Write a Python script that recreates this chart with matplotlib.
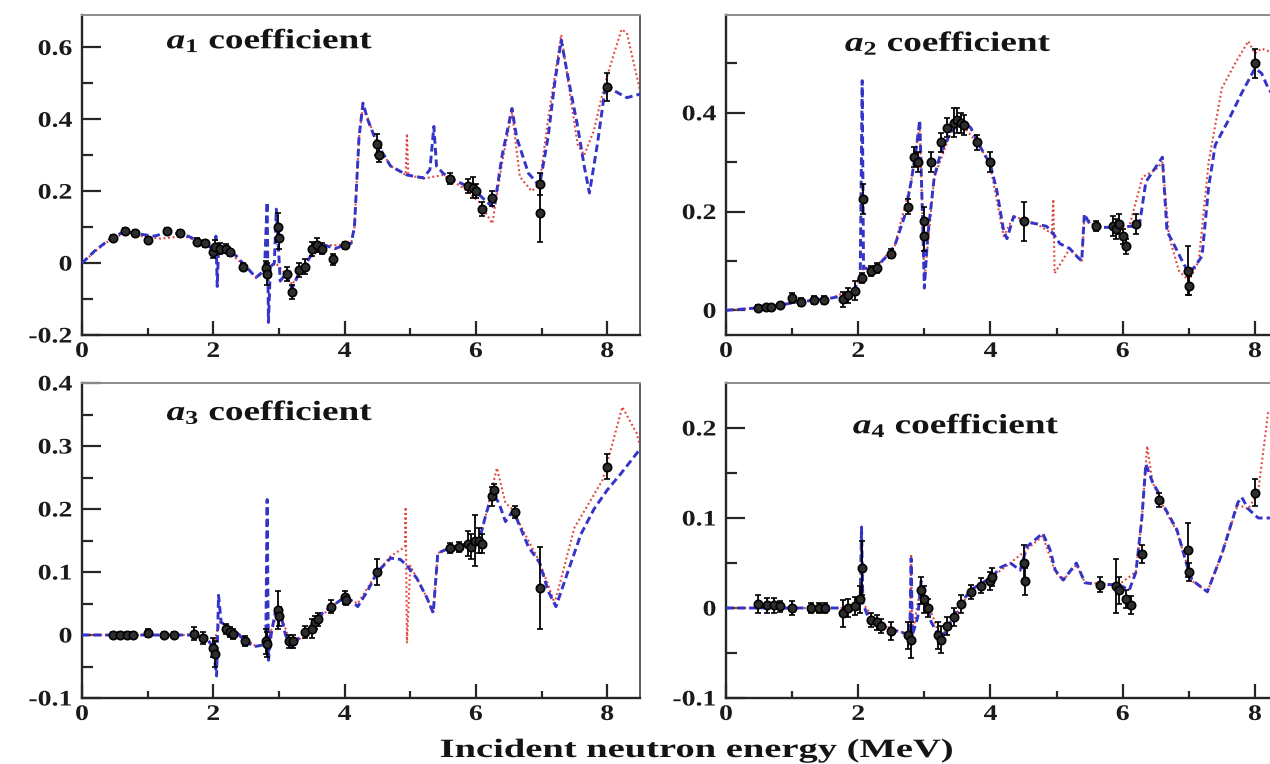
import matplotlib
matplotlib.use("Agg")
import matplotlib.pyplot as plt
from matplotlib import patheffects
from matplotlib.transforms import Affine2D
from matplotlib.ticker import MultipleLocator, FixedLocator, FuncFormatter

plt.rcParams['font.family'] = ['Liberation Serif', 'DejaVu Serif']
plt.rcParams['font.weight'] = 'bold'
plt.rcParams['mathtext.fontset'] = 'custom'
plt.rcParams['mathtext.rm'] = 'Liberation Serif:bold'
plt.rcParams['mathtext.it'] = 'Liberation Serif:bold:italic'
plt.rcParams['mathtext.bf'] = 'Liberation Serif:bold'
plt.rcParams['mathtext.bfit'] = 'Liberation Serif:bold:italic'
plt.rcParams['axes.unicode_minus'] = False

BLUE = '#3434c8'
RED = '#e2443c'
INK = '#262626'

# ---------------- a1 ----------------
a1_fit_x = [0.0, 0.2, 0.45, 0.65, 0.9, 1.1, 1.3, 1.55, 1.8, 1.95, 2.02, 2.04, 2.06, 2.08, 2.2, 2.35,
            2.5, 2.65, 2.78, 2.82, 2.84, 2.87, 2.93, 2.96, 2.99, 3.02, 3.1, 3.2, 3.3, 3.45, 3.55,
            3.7, 3.85, 4.0, 4.1, 4.15, 4.22, 4.28, 4.35, 4.5, 4.7, 4.95, 5.2, 5.3, 5.36, 5.4, 5.5,
            5.6, 5.8, 5.9, 6.05, 6.2, 6.28, 6.4, 6.55, 6.62, 6.8, 6.97, 7.1, 7.2, 7.3, 7.4, 7.55,
            7.65, 7.73, 7.85, 7.98, 8.1, 8.3, 8.5]
a1_fit_y = [0.0, 0.035, 0.07, 0.088, 0.08, 0.075, 0.085, 0.08, 0.06, 0.045, 0.03, 0.075, -0.065, 0.04,
            0.04, 0.02, -0.01, -0.04, -0.02, 0.17, -0.165, -0.01, 0.0, 0.15, 0.05, -0.05, -0.03, -0.07,
            -0.03, 0.01, 0.04, 0.05, 0.04, 0.05, 0.055, 0.1, 0.35, 0.445, 0.4, 0.33, 0.27, 0.245,
            0.237, 0.26, 0.38, 0.27, 0.25, 0.236, 0.22, 0.21, 0.19, 0.165, 0.155, 0.3, 0.43, 0.35,
            0.25, 0.215, 0.35, 0.5, 0.62, 0.52, 0.38, 0.27, 0.195, 0.33, 0.5, 0.48, 0.46, 0.47]
a1_alt_x = [0.0, 0.2, 0.45, 0.65, 0.9, 1.2, 1.55, 1.8, 2.0, 2.2, 2.5, 2.65, 2.8, 2.95, 3.1, 3.2,
            3.45, 3.7, 4.0, 4.1, 4.15, 4.22, 4.28, 4.5, 4.7, 4.93, 4.95, 4.97, 5.2, 5.5, 5.8, 6.05,
            6.25, 6.4, 6.55, 6.67, 6.85, 6.97, 7.1, 7.3, 7.45, 7.55, 7.65, 7.8, 7.9, 8.0, 8.1, 8.22,
            8.3, 8.5]
a1_alt_y = [0.0, 0.033, 0.068, 0.082, 0.075, 0.068, 0.075, 0.06, 0.035, 0.035, -0.01, -0.04, -0.025,
            0.0, -0.03, -0.06, 0.01, 0.05, 0.05, 0.055, 0.1, 0.35, 0.44, 0.33, 0.27, 0.245, 0.36,
            0.245, 0.235, 0.245, 0.21, 0.17, 0.11, 0.28, 0.42, 0.24, 0.2, 0.22, 0.4, 0.635, 0.45,
            0.33, 0.3, 0.37, 0.45, 0.52, 0.58, 0.65, 0.64, 0.48]
a1_x = [0.47, 0.65, 0.8, 1.0, 1.3, 1.5, 1.75, 1.87, 2.0, 2.03, 2.1, 2.2, 2.25, 2.45, 2.8, 2.82,
        2.98, 3.0, 3.12, 3.2, 3.3, 3.4, 3.5, 3.58, 3.65, 3.82, 4.0, 4.5, 4.52, 5.6, 5.88, 5.95,
        6.0, 6.1, 6.25, 6.98, 6.98, 7.99]
a1_y = [0.07, 0.09, 0.085, 0.065, 0.09, 0.085, 0.06, 0.055, 0.03, 0.045, 0.04, 0.04, 0.03, -0.01,
        -0.015, -0.03, 0.1, 0.07, -0.03, -0.08, -0.02, -0.01, 0.04, 0.05, 0.04, 0.01, 0.05, 0.33,
        0.3, 0.235, 0.215, 0.21, 0.2, 0.15, 0.18, 0.22, 0.14, 0.49]
a1_err = [0.008, 0.008, 0.008, 0.008, 0.008, 0.008, 0.01, 0.01, 0.015, 0.02, 0.015, 0.012, 0.01,
          0.01, 0.02, 0.03, 0.04, 0.03, 0.02, 0.02, 0.02, 0.02, 0.02, 0.02, 0.015, 0.015, 0.01,
          0.03, 0.02, 0.015, 0.02, 0.03, 0.02, 0.02, 0.02, 0.03, 0.08, 0.04]

# ---------------- a2 ----------------
a2_fit_x = [0.0, 0.5, 0.8, 1.0, 1.3, 1.6, 1.8, 1.95, 2.03, 2.06, 2.08, 2.25, 2.4, 2.55, 2.7, 2.8,
            2.88, 2.93, 2.97, 3.0, 3.05, 3.15, 3.25, 3.4, 3.55, 3.7, 3.85, 4.0, 4.1, 4.2, 4.25,
            4.35, 4.5, 4.7, 4.85, 4.95, 5.05, 5.2, 5.3, 5.38, 5.42, 5.5, 5.6, 5.9, 6.1, 6.25, 6.35,
            6.45, 6.55, 6.6, 6.67, 6.75, 6.9, 7.0, 7.1, 7.2, 7.3, 7.4, 7.6, 7.8, 8.0, 8.1, 8.2, 8.3,
            8.5]
a2_fit_y = [0.0, 0.005, 0.01, 0.015, 0.02, 0.025, 0.03, 0.045, 0.07, 0.465, 0.085, 0.085, 0.105, 0.13,
            0.19, 0.26, 0.33, 0.385, 0.2, 0.045, 0.15, 0.27, 0.32, 0.36, 0.385, 0.37, 0.33, 0.295,
            0.24, 0.16, 0.145, 0.19, 0.18, 0.175, 0.17, 0.155, 0.135, 0.125, 0.11, 0.1, 0.195, 0.175,
            0.168, 0.168, 0.17, 0.17, 0.26, 0.28, 0.3, 0.31, 0.16, 0.14, 0.1, 0.075, 0.09, 0.11, 0.25,
            0.335, 0.385, 0.44, 0.49, 0.48, 0.45, 0.43, 0.42]
a2_alt_x = [0.0, 0.5, 1.0, 1.6, 1.95, 2.05, 2.08, 2.25, 2.55, 2.8, 2.93, 3.0, 3.15, 3.4, 3.55,
            3.85, 4.0, 4.2, 4.35, 4.7, 4.93, 4.95, 4.97, 5.2, 5.38, 5.42, 5.6, 6.1, 6.3, 6.5, 6.6,
            6.7, 6.85, 7.0, 7.15, 7.3, 7.5, 7.7, 7.9, 8.0, 8.1, 8.3, 8.5]
a2_alt_y = [0.0, 0.005, 0.015, 0.025, 0.045, 0.07, 0.09, 0.085, 0.13, 0.26, 0.375, 0.06, 0.27, 0.36,
            0.38, 0.33, 0.29, 0.15, 0.19, 0.175, 0.155, 0.225, 0.075, 0.125, 0.1, 0.19, 0.168, 0.17,
            0.27, 0.285, 0.3, 0.15, 0.08, 0.06, 0.1, 0.3, 0.45, 0.5, 0.545, 0.52, 0.53, 0.52, 0.5]
a2_x = [0.49, 0.6, 0.68, 0.82, 1.0, 1.13, 1.33, 1.48, 1.77, 1.84, 1.95, 2.05, 2.07, 2.2, 2.28, 2.5,
        2.75, 2.85, 2.9, 3.0, 3.0, 3.1, 3.25, 3.35, 3.45, 3.5, 3.55, 3.6, 3.8, 4.0, 4.5, 5.6, 5.85,
        5.9, 5.95, 6.0, 6.05, 6.2, 6.98, 7.0, 8.0]
a2_y = [0.005, 0.006, 0.006, 0.01, 0.025, 0.016, 0.02, 0.02, 0.022, 0.03, 0.04, 0.065, 0.225, 0.08,
        0.085, 0.115, 0.21, 0.31, 0.3, 0.18, 0.15, 0.3, 0.34, 0.37, 0.38, 0.385, 0.38, 0.375, 0.34,
        0.3, 0.18, 0.17, 0.17, 0.165, 0.175, 0.15, 0.13, 0.175, 0.08, 0.05, 0.5]
a2_err = [0.005, 0.005, 0.005, 0.005, 0.01, 0.008, 0.008, 0.008, 0.015, 0.015, 0.02, 0.01, 0.03,
          0.01, 0.01, 0.01, 0.015, 0.02, 0.02, 0.03, 0.03, 0.02, 0.02, 0.02, 0.03, 0.025, 0.02, 0.02,
          0.015, 0.02, 0.04, 0.01, 0.02, 0.02, 0.02, 0.015, 0.015, 0.02, 0.05, 0.02, 0.03]

# ---------------- a3 ----------------
a3_fit_x = [0.0, 1.7, 1.9, 2.0, 2.05, 2.08, 2.12, 2.2, 2.35, 2.5, 2.65, 2.8, 2.82, 2.84, 2.88, 2.95,
            3.0, 3.1, 3.2, 3.3, 3.45, 3.6, 3.8, 4.0, 4.1, 4.2, 4.35, 4.5, 4.7, 4.85, 4.95, 5.1, 5.25,
            5.35, 5.42, 5.6, 5.9, 6.05, 6.15, 6.25, 6.35, 6.45, 6.55, 6.6, 6.8, 6.97, 7.1, 7.22, 7.4,
            7.6, 7.8, 8.0, 8.2, 8.5]
a3_fit_y = [0.0, 0.0, -0.005, -0.02, -0.065, 0.063, 0.02, 0.015, 0.005, -0.012, -0.018, -0.015, 0.215,
            -0.04, 0.0, 0.04, 0.045, 0.0, -0.02, -0.005, 0.01, 0.03, 0.045, 0.06, 0.055, 0.045, 0.07,
            0.1, 0.122, 0.12, 0.11, 0.09, 0.06, 0.035, 0.13, 0.138, 0.146, 0.15, 0.19, 0.225, 0.21,
            0.18, 0.195, 0.19, 0.14, 0.115, 0.07, 0.045, 0.1, 0.16, 0.2, 0.23, 0.255, 0.295]
a3_alt_x = [0.0, 1.7, 2.0, 2.1, 2.35, 2.65, 2.8, 3.0, 3.2, 3.45, 3.8, 4.0, 4.2, 4.5, 4.7, 4.85,
            4.92, 4.93, 4.95, 5.0, 5.1, 5.25, 5.35, 5.42, 5.6, 6.05, 6.15, 6.32, 6.45, 6.55, 6.75,
            6.95, 7.1, 7.2, 7.5, 7.93, 8.23, 8.45, 8.5]
a3_alt_y = [0.0, 0.0, -0.015, 0.02, 0.005, -0.018, -0.015, 0.04, -0.02, 0.01, 0.045, 0.06, 0.05, 0.1,
            0.125, 0.135, 0.14, 0.203, -0.013, 0.11, 0.09, 0.06, 0.035, 0.13, 0.138, 0.15, 0.19,
            0.265, 0.21, 0.2, 0.16, 0.12, 0.08, 0.05, 0.17, 0.246, 0.362, 0.32, 0.3]
a3_x = [0.47, 0.58, 0.68, 0.78, 1.0, 1.25, 1.4, 1.7, 1.85, 2.0, 2.03, 2.2, 2.25, 2.3, 2.48, 2.8,
        2.82, 2.98, 3.0, 3.15, 3.22, 3.4, 3.5, 3.55, 3.6, 3.8, 4.0, 4.02, 4.5, 5.6, 5.75, 5.88,
        5.92, 5.98, 6.05, 6.1, 6.25, 6.28, 6.6, 6.98, 7.99]
a3_y = [0.0, 0.0, 0.0, 0.0, 0.003, 0.0, 0.0, 0.002, -0.005, -0.02, -0.03, 0.01, 0.005, 0.002, -0.01,
        -0.01, -0.015, 0.04, 0.03, -0.01, -0.01, 0.005, 0.01, 0.02, 0.025, 0.045, 0.06, 0.055, 0.1,
        0.138, 0.14, 0.145, 0.14, 0.15, 0.15, 0.145, 0.22, 0.23, 0.195, 0.075, 0.267]
a3_err = [0.004, 0.004, 0.004, 0.004, 0.006, 0.005, 0.005, 0.01, 0.01, 0.015, 0.02, 0.008, 0.008,
          0.008, 0.008, 0.02, 0.02, 0.03, 0.015, 0.01, 0.01, 0.01, 0.015, 0.01, 0.01, 0.01, 0.01,
          0.008, 0.02, 0.008, 0.008, 0.02, 0.02, 0.04, 0.02, 0.015, 0.015, 0.01, 0.01, 0.065, 0.02]

# ---------------- a4 ----------------
a4_fit_x = [0.0, 1.8, 1.95, 2.03, 2.05, 2.07, 2.15, 2.3, 2.5, 2.7, 2.78, 2.8, 2.82, 2.9, 2.95, 3.0,
            3.1, 3.25, 3.4, 3.55, 3.7, 3.88, 4.03, 4.15, 4.3, 4.45, 4.55, 4.79, 4.9, 4.98, 5.1, 5.3,
            5.43, 5.66, 5.94, 6.1, 6.2, 6.29, 6.35, 6.45, 6.58, 6.63, 6.82, 7.0, 7.05, 7.28, 7.5,
            7.74, 7.8, 7.9, 8.05, 8.27, 8.5]
a4_fit_y = [0.0, 0.0, 0.002, 0.01, 0.09, 0.005, -0.01, -0.017, -0.024, -0.028, -0.03, 0.055, -0.03,
            -0.01, 0.03, 0.015, -0.015, -0.035, -0.015, 0.005, 0.02, 0.028, 0.035, 0.045, 0.05,
            0.042, 0.068, 0.083, 0.065, 0.042, 0.031, 0.05, 0.028, 0.026, 0.026, 0.02, 0.04, 0.1,
            0.16, 0.14, 0.123, 0.112, 0.087, 0.04, 0.031, 0.018, 0.06, 0.117, 0.123, 0.11, 0.1, 0.1,
            0.1]
a4_alt_x = [0.0, 1.8, 2.03, 2.05, 2.07, 2.3, 2.78, 2.8, 2.82, 2.95, 3.25, 3.7, 4.03, 4.3, 4.55,
            4.79, 4.98, 5.1, 5.3, 5.43, 5.94, 6.2, 6.29, 6.37, 6.45, 6.63, 6.82, 7.05, 7.28, 7.5,
            7.74, 7.9, 8.05, 8.2, 8.3, 8.5]
a4_alt_y = [0.0, 0.0, 0.01, 0.085, 0.005, -0.017, -0.03, 0.06, -0.03, 0.028, -0.035, 0.02, 0.035,
            0.05, 0.065, 0.08, 0.04, 0.031, 0.048, 0.028, 0.026, 0.04, 0.1, 0.18, 0.14, 0.11, 0.085,
            0.03, 0.018, 0.06, 0.115, 0.11, 0.13, 0.217, 0.22, 0.15]
a4_x = [0.49, 0.62, 0.72, 0.82, 1.0, 1.28, 1.4, 1.5, 1.77, 1.85, 1.95, 2.02, 2.05, 2.2, 2.28, 2.35,
        2.5, 2.75, 2.8, 2.95, 3.0, 3.05, 3.2, 3.25, 3.35, 3.45, 3.55, 3.7, 3.85, 4.0, 4.02, 4.5,
        4.52, 5.66, 5.9, 5.95, 6.05, 6.12, 6.29, 6.55, 6.98, 7.0, 8.0]
a4_y = [0.005, 0.003, 0.003, 0.002, 0.0, 0.0, 0.0, 0.0, -0.006, 0.0, 0.002, 0.01, 0.045, -0.013,
        -0.016, -0.02, -0.025, -0.03, -0.035, 0.02, 0.01, 0.0, -0.03, -0.035, -0.02, -0.01, 0.005,
        0.018, 0.025, 0.03, 0.035, 0.05, 0.03, 0.026, 0.025, 0.02, 0.01, 0.003, 0.06, 0.12, 0.065,
        0.04, 0.128]
a4_err = [0.01, 0.008, 0.008, 0.006, 0.008, 0.006, 0.006, 0.006, 0.015, 0.01, 0.01, 0.015, 0.03,
          0.008, 0.008, 0.008, 0.01, 0.015, 0.02, 0.015, 0.015, 0.01, 0.015, 0.015, 0.01, 0.01,
          0.01, 0.008, 0.008, 0.01, 0.01, 0.02, 0.015, 0.008, 0.03, 0.015, 0.01, 0.01, 0.01, 0.008,
          0.03, 0.01, 0.015]

panels = [
    dict(name='1', fit=(a1_fit_x, a1_fit_y), alt=(a1_alt_x, a1_alt_y), exp=(a1_x, a1_y, a1_err),
         ylim=(-0.2, 0.69), major=[-0.2, 0.0, 0.2, 0.4, 0.6], minor=[-0.1, 0.1, 0.3, 0.5],
         label_xy=(1.29, 0.597), rect=(82, 15, 640, 335)),
    dict(name='2', fit=(a2_fit_x, a2_fit_y), alt=(a2_alt_x, a2_alt_y), exp=(a2_x, a2_y, a2_err),
         ylim=(-0.05, 0.598), major=[0.0, 0.2, 0.4], minor=[0.1, 0.3, 0.5],
         label_xy=(1.8, 0.525), rect=(726, 15, 1288, 335)),
    dict(name='3', fit=(a3_fit_x, a3_fit_y), alt=(a3_alt_x, a3_alt_y), exp=(a3_x, a3_y, a3_err),
         ylim=(-0.1, 0.4), major=[-0.1, 0.0, 0.1, 0.2, 0.3, 0.4], minor=[-0.05, 0.05, 0.15, 0.25, 0.35],
         label_xy=(1.29, 0.341), rect=(82, 383, 640, 698)),
    dict(name='4', fit=(a4_fit_x, a4_fit_y), alt=(a4_alt_x, a4_alt_y), exp=(a4_x, a4_y, a4_err),
         ylim=(-0.1, 0.25), major=[-0.1, 0.0, 0.1, 0.2], minor=[-0.05, 0.05, 0.15],
         label_xy=(1.92, 0.194), rect=(726, 383, 1288, 698)),
]


class Widen(patheffects.AbstractPathEffect):
    """Draw glyphs stretched horizontally about an anchor on the ink box."""

    def __init__(self, sx, anchor=0.0):
        super().__init__()
        self.sx = sx
        self.anchor = anchor

    def draw_path(self, renderer, gc, tpath, affine, rgbFace=None):
        ext = tpath.get_extents()
        cx = ext.x0 + self.anchor * ext.width
        widen = Affine2D().translate(-cx, 0).scale(self.sx, 1).translate(cx, 0)
        renderer.draw_path(gc, tpath, widen + affine, rgbFace)


W, H = 1270, 764
fig = plt.figure(figsize=(W / 100, H / 100), dpi=100)
fmt = FuncFormatter(lambda v, pos: '%g' % round(v, 3))

axes = []
for p in panels:
    x0, y0, x1, y1 = p['rect']
    ax = fig.add_axes([x0 / W, 1 - y1 / H, (x1 - x0) / W, (y1 - y0) / H])
    ax.plot(*p['alt'], color=RED, lw=1.5, dashes=(0.9, 1.3), zorder=2)
    ax.plot(*p['fit'], color=BLUE, lw=2.1, dashes=(2.6, 1.4), zorder=3)
    ex, ey, ee = p['exp']
    ax.errorbar(ex, ey, yerr=ee, fmt='o', ms=6, mfc='#2e2e2e', mec='black', mew=1.2,
                ecolor='black', elinewidth=1.3, capsize=2, capthick=1.0, zorder=5)
    ax.set_xlim(0, 8.5)
    ax.set_ylim(*p['ylim'])
    ax.xaxis.set_major_locator(MultipleLocator(2))
    ax.xaxis.set_minor_locator(MultipleLocator(1))
    ax.yaxis.set_major_locator(FixedLocator(p['major']))
    ax.yaxis.set_minor_locator(FixedLocator(p['minor']))
    ax.yaxis.set_major_formatter(fmt)
    ax.xaxis.set_major_formatter(fmt)
    ax.tick_params(which='both', direction='in', top=False, right=False, color=INK,
                   width=1.6, labelsize=16, labelcolor='#1a1a1a')
    ax.tick_params(axis='y', which='major', length=14, pad=7)
    ax.tick_params(axis='y', which='minor', length=8)
    ax.tick_params(axis='x', which='major', length=10, pad=5)
    ax.tick_params(axis='x', which='minor', length=5)
    for side in ('left', 'bottom'):
        ax.spines[side].set_color(INK)
        ax.spines[side].set_linewidth(1.7)
    ax.spines['top'].set_color('#8c8c8c')
    ax.spines['top'].set_linewidth(1.4)
    ax.spines['right'].set_color('#5a5a5a')
    ax.spines['right'].set_linewidth(1.4)
    lx, ly = p['label_xy']
    t = ax.text(lx, ly, r'$\mathit{a}_{\mathit{%s}}$ coefficient' % p['name'],
                fontsize=20, ha='left', va='baseline', color='#141414')
    t.set_path_effects([Widen(1.34, 0.0)])
    axes.append(ax)

xl = fig.text(440 / W, 1 - 757 / H, 'Incident neutron energy (MeV)', fontsize=19,
              ha='left', va='baseline', color='#141414')
xl.set_path_effects([Widen(1.46, 0.0)])

fig.canvas.draw()
for ax in axes:
    for lab in ax.get_yticklabels():
        lab.set_path_effects([Widen(1.25, 1.0)])
    for lab in ax.get_xticklabels():
        lab.set_path_effects([Widen(1.25, 0.5)])

fig.savefig('out.png', dpi=100)
